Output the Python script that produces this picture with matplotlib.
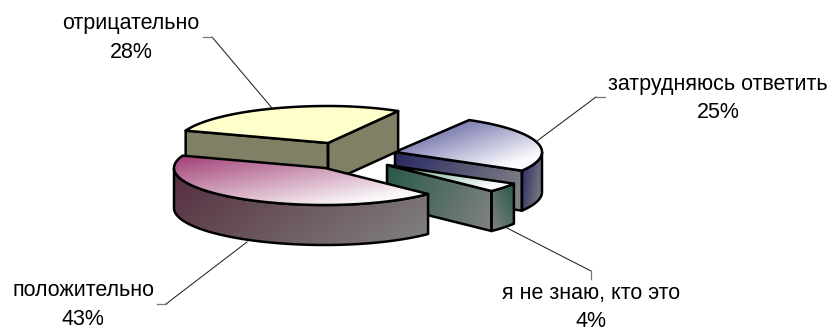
import numpy as np
import matplotlib
matplotlib.use("Agg")
import matplotlib.pyplot as plt
from matplotlib.patches import Polygon

# --- data -------------------------------------------------------------
categories = ["положительно", "я не знаю, кто это", "затрудняюсь ответить", "отрицательно"]
percent = [43, 4, 25, 28]

# --- style / layout ---------------------------------------------------
START = 160.5            # angle of first slice edge (degrees, CCW)
RX_LEFT, RY, DEPTH = 151, 37, 40
rx_right = [145, 147, 147, 139]
apex = [(325, 168), (387, 165), (395, 152), (328, 143)]
top_cols = [((160, 60, 115), (250, 248, 250)),
            ((90, 150, 125), (255, 255, 255)),
            ((70, 70, 145), (252, 252, 255)),
            ((255, 255, 204), (255, 255, 204))]
side_cols = [((85, 45, 62), (130, 130, 130)),
             ((40, 90, 70), (130, 130, 130)),
             ((40, 40, 100), (135, 135, 135)),
             ((128, 128, 102), (128, 128, 102))]
draw_order = [2, 1, 3, 0]
label_pos = [(83, 305), (591, 307.5), (718, 98.5), (131, 38)]
leaders = [[(166, 304), (247, 242)],
           [(591, 271), (507, 228)],
           [(596, 97), (537, 141)],
           [(212, 37), (272, 108)]]
stubs = [[(157, 304), (166, 304)],
         [(591, 279), (591, 271)],
         [(605, 97), (596, 97)],
         [(203, 37), (212, 37)]]

plt.rcParams["font.family"] = ["Liberation Sans", "DejaVu Sans"]
fig = plt.figure(figsize=(8.32, 3.31), dpi=100)
ax = fig.add_axes([0, 0, 1, 1])
W, H = 832, 331


def rim(i, deg):
    c = apex[i]
    t = np.radians(deg)
    cs = np.cos(t)
    rx = np.where(cs > 0, rx_right[i], RX_LEFT)
    return np.column_stack([c[0] + rx * cs, c[1] - RY * np.sin(t)])


def face(points, cols, direction=(1, 1), z=1, stretch=1.0):
    """Filled polygon with a linear gradient and a black outline."""
    pts = np.asarray(points)
    x0, y0 = pts.min(axis=0)
    x1, y1 = pts.max(axis=0)
    xx, yy = np.meshgrid(np.linspace(0, 1, 200), np.linspace(0, 1, 100))
    dx, dy = direction
    u = xx if dx >= 0 else 1 - xx
    v = yy if dy >= 0 else 1 - yy
    t = np.clip(stretch * (abs(dx) * u + abs(dy) * v) / (abs(dx) + abs(dy)), 0, 1)
    a, b = np.array(cols[0]) / 255, np.array(cols[1]) / 255
    img = a + (b - a) * t[..., None]
    im = ax.imshow(img, extent=(x0, x1, y1, y0), aspect="auto", zorder=z, interpolation="bilinear")
    outline = Polygon(pts, closed=True, facecolor="none", edgecolor="black",
                      lw=1.8, joinstyle="round", zorder=z + 0.1)
    ax.add_patch(outline)
    im.set_clip_path(outline)


# slice angle ranges derived from the values
edges = START + np.cumsum([0] + percent) * 3.6
down = np.array([0, DEPTH])
for rank, i in enumerate(draw_order):
    a0, a1 = edges[i], edges[i + 1]
    c = np.array(apex[i], float)
    z = 1 + rank
    cols_s = side_cols[i]

    # radial faces that look towards the viewer
    radial = {1: [a0], 2: [a0], 3: [a0, a1]}.get(i, [])
    for a in radial:
        p = rim(i, np.array([a]))[0]
        face([c, p, p + down, c + down], cols_s, (1, 0.3), z)

    # curved outer wall, only the front part
    arc = np.linspace(a0, a1, 200)
    arc_mod = arc % 360
    vis = arc[(arc_mod >= 180) & (arc_mod <= 360)]
    if len(vis) > 1:
        t = rim(i, vis)
        poly = np.vstack([t, (t + down)[::-1]])
        direction = (-1, 1) if i == 1 else (1, 0.4)
        face(poly, cols_s, direction, z)

    # top surface
    pts = np.vstack([[c], rim(i, arc)])
    face(pts, top_cols[i], (1, 1), z + 0.3, stretch=1.2)

# leader lines
for seg in leaders:
    ax.plot(*zip(*seg), color="#222222", lw=0.75, zorder=20)
for seg in stubs:
    ax.plot(*zip(*seg), color="#777777", lw=0.9, zorder=20)

# labels
for (x, y), name, p in zip(label_pos, categories, percent):
    ax.text(x, y, f"{name}\n{p}%", ha="center", va="center", fontsize=15.5,
            linespacing=1.45, color="black", zorder=21)

ax.set_xlim(0, W)
ax.set_ylim(H, 0)
ax.axis("off")
fig.savefig("out.png", dpi=100, facecolor="white")
